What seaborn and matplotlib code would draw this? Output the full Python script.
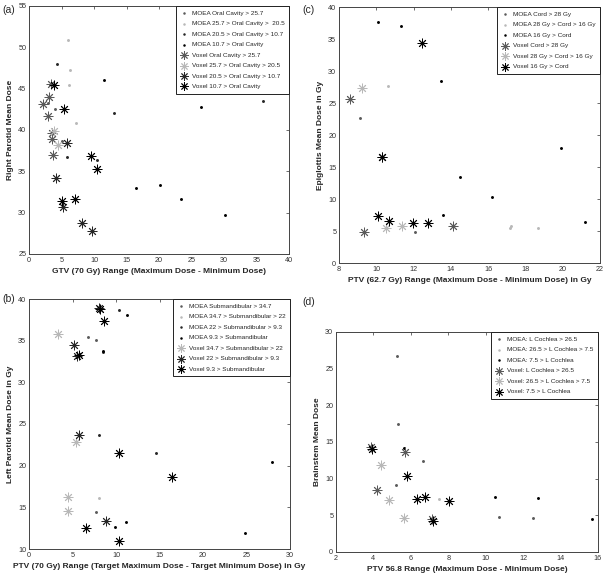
import numpy as np
import matplotlib
matplotlib.use("Agg")
import matplotlib.pyplot as plt
import seaborn as sns

# ---- panel (a): right parotid vs GTV range, split by oral cavity dose ----
a_moea1_x = [2.9, 5.0, 4.0]
a_moea1_y = [43.3, 38.7, 42.6]
a_moea2_x = [6.0, 6.3, 6.2, 7.2]
a_moea2_y = [50.9, 47.3, 45.5, 40.8]
a_moea3_x = [4.3, 5.9, 10.5, 13.1, 36.0]
a_moea3_y = [48.0, 36.7, 36.4, 42.0, 43.5]
a_moea4_x = [11.5, 16.5, 20.2, 23.4, 30.1, 26.5]
a_moea4_y = [46.1, 33.0, 33.3, 31.7, 29.7, 42.8]
a_vox1_x = [3.4, 3.0, 2.1, 2.9, 3.5, 3.5, 3.7]
a_vox1_y = [45.6, 44.0, 43.1, 41.7, 39.6, 38.9, 37.0]
a_vox2_x = [3.9, 4.4]
a_vox2_y = [39.9, 38.2]
a_vox3_x = [4.2, 5.3, 8.1, 9.7, 5.9]
a_vox3_y = [34.2, 30.7, 28.7, 27.8, 38.4]
a_vox4_x = [3.8, 5.4, 9.5, 10.5, 5.1, 7.0]
a_vox4_y = [45.5, 42.5, 36.8, 35.3, 31.4, 31.7]
a_labels = ["MOEA Oral Cavity > 25.7", "MOEA 25.7 > Oral Cavity >  20.5",
            "MOEA 20.5 > Oral Cavity > 10.7", "MOEA 10.7 > Oral Cavity",
            "Voxel Oral Cavity > 25.7", "Voxel 25.7 > Oral Cavity > 20.5",
            "Voxel 20.5 > Oral Cavity > 10.7", "Voxel 10.7 > Oral Cavity"]

# ---- panel (c): epiglottis vs PTV 62.7 range, split by cord dose ----
c_moea1_x = [9.1, 12.1]
c_moea1_y = [22.6, 4.9]
c_moea2_x = [10.65, 17.15, 17.2, 18.7]
c_moea2_y = [27.7, 5.5, 5.8, 5.4]
c_moea3_x = [10.1, 11.35, 13.45, 14.5, 16.2, 19.9, 21.2, 13.6]
c_moea3_y = [37.6, 37.0, 28.5, 13.4, 10.3, 18.0, 6.4, 7.5]
c_vox1_x = [8.6, 9.35, 14.1, 10.3]
c_vox1_y = [25.7, 4.9, 5.8, 16.6]
c_vox2_x = [9.25, 10.5, 11.4]
c_vox2_y = [27.4, 5.4, 5.8]
c_vox3_x = [12.45, 10.1, 10.7, 11.95, 12.8, 10.3]
c_vox3_y = [34.3, 7.3, 6.5, 6.2, 6.2, 16.6]
c_labels = ["MOEA Cord > 28 Gy", "MOEA 28 Gy > Cord > 16 Gy", "MOEA 16 Gy > Cord",
            "Voxel Cord > 28 Gy", "Voxel 28 Gy > Cord > 16 Gy", "Voxel 16 Gy > Cord"]

# ---- panel (b): left parotid vs PTV 70 range, split by submandibular dose ----
b_moea1_x = [6.8, 7.7, 7.7]
b_moea1_y = [35.5, 35.05, 14.5]
b_moea2_x = [8.0]
b_moea2_y = [16.1]
b_moea3_x = [8.45, 8.1, 14.6, 10.4]
b_moea3_y = [33.7, 23.7, 21.55, 38.7]
b_moea4_x = [11.3, 27.9, 9.9, 11.2, 24.8, 8.5]
b_moea4_y = [38.1, 20.4, 12.7, 13.2, 11.9, 33.8]
b_vox2_x = [3.3, 5.4, 4.5, 4.5]
b_vox2_y = [35.8, 22.8, 16.2, 14.6]
b_vox3_x = [5.2, 5.5, 5.75, 8.8, 8.0]
b_vox3_y = [34.45, 33.2, 23.7, 13.4, 38.9]
b_vox4_x = [8.2, 8.6, 5.8, 10.4, 16.4, 6.5, 10.4]
b_vox4_y = [38.8, 37.4, 33.3, 21.5, 18.6, 12.5, 11.0]
b_labels = ["MOEA Submandibular > 34.7", "MOEA 34.7 > Submandibular > 22",
            "MOEA 22 > Submandibular > 9.3", "MOEA 9.3 > Submandibular",
            "Voxel 34.7 > Submandibular > 22", "Voxel 22 > Submandibular > 9.3",
            "Voxel 9.3 > Submandibular"]

# ---- panel (d): brainstem vs PTV 56.8 range, split by left cochlea dose ----
d_moea1_x = [5.27, 5.3, 6.67, 5.2, 10.7, 12.5]
d_moea1_y = [26.7, 17.5, 12.4, 9.1, 4.8, 4.6]
d_moea2_x = [7.5]
d_moea2_y = [7.2]
d_moea3_x = [5.66, 10.5, 12.8, 15.7]
d_moea3_y = [14.2, 7.5, 7.4, 4.5]
d_vox1_x = [3.85, 5.68, 4.2, 7.15]
d_vox1_y = [14.3, 13.7, 8.5, 4.5]
d_vox2_x = [4.43, 4.82, 5.66]
d_vox2_y = [11.8, 7.05, 4.7]
d_vox3_x = [3.95, 5.82, 6.35, 6.78, 8.06, 7.2]
d_vox3_y = [14.1, 10.4, 7.2, 7.5, 6.96, 4.2]
d_labels = ["MOEA: L Cochlea > 26.5", "MOEA: 26.5 > L Cochlea > 7.5", "MOEA: 7.5 > L Cochlea",
            "Voxel: L Cochlea > 26.5", "Voxel: 26.5 > L Cochlea > 7.5", "Voxel: 7.5 > L Cochlea"]

GRAY = "#5a5a5a"
LIGHT = "#b8b8b8"
DARK = "#262626"
BLACK = "#000000"
ASTER = (8, 2, 0)

sns.set_theme(style="white")
plt.rcParams["font.family"] = ["Liberation Sans", "DejaVu Sans"]

fig = plt.figure(figsize=(6.09, 5.74), dpi=100)

W, H = 609, 574


def make_axes(left, top, right, bottom):
    return fig.add_axes([left / W, 1 - bottom / H, (right - left) / W, (bottom - top) / H])


def draw(ax, series, labels):
    for (xs, ys, color, kind), lab in zip(series, labels):
        if kind == "moea":
            sns.scatterplot(x=xs, y=ys, ax=ax, marker=".", s=18, color=color,
                            linewidth=0, label=lab)
        else:
            sns.scatterplot(x=xs, y=ys, ax=ax, marker=ASTER, s=42, color=color,
                            linewidth=0.65, label=lab)
    leg = ax.legend(loc="upper right", fontsize=4.6, frameon=True, fancybox=False,
                    borderaxespad=0, handletextpad=0.6, labelspacing=0.78,
                    borderpad=0.7, handlelength=1.2, framealpha=1, markerscale=0.85)
    leg.get_frame().set_edgecolor("#222222")
    leg.get_frame().set_linewidth(0.7)


def style(ax, xlim, ylim, xticks, yticks, xlabel, ylabel):
    ax.set_xlim(*xlim)
    ax.set_ylim(*ylim)
    ax.set_xticks(xticks)
    ax.set_yticks(yticks)
    ax.tick_params(direction="in", top=True, right=True, length=2.5, width=0.5,
                   labelsize=5.2, labelcolor="#333333", pad=2, color="#333333")
    ax.set_xlabel(xlabel, fontsize=6, fontweight="bold", labelpad=3)
    ax.set_ylabel(ylabel, fontsize=6, fontweight="bold", labelpad=3)
    for sp in ax.spines.values():
        sp.set_color("#444444")
        sp.set_linewidth(0.7)


# (a)
ax = make_axes(29, 6, 289, 254)
draw(ax, [(a_moea1_x, a_moea1_y, GRAY, "moea"), (a_moea2_x, a_moea2_y, LIGHT, "moea"),
          (a_moea3_x, a_moea3_y, DARK, "moea"), (a_moea4_x, a_moea4_y, BLACK, "moea"),
          (a_vox1_x, a_vox1_y, GRAY, "vox"), (a_vox2_x, a_vox2_y, LIGHT, "vox"),
          (a_vox3_x, a_vox3_y, DARK, "vox"), (a_vox4_x, a_vox4_y, BLACK, "vox")], a_labels)
style(ax, (0, 40), (25, 55), np.arange(0, 41, 5), np.arange(25, 56, 5),
      "GTV (70 Gy) Range (Maximum Dose - Minimum Dose)", "Right Parotid Mean Dose")

# (c)
ax = make_axes(339, 7, 600, 263)
draw(ax, [(c_moea1_x, c_moea1_y, GRAY, "moea"), (c_moea2_x, c_moea2_y, LIGHT, "moea"),
          (c_moea3_x, c_moea3_y, BLACK, "moea"),
          (c_vox1_x, c_vox1_y, GRAY, "vox"), (c_vox2_x, c_vox2_y, LIGHT, "vox"),
          (c_vox3_x, c_vox3_y, BLACK, "vox")], c_labels)
style(ax, (8, 22), (0, 40), np.arange(8, 23, 2), np.arange(0, 41, 5),
      "PTV (62.7 Gy) Range (Maximum Dose - Minimum Dose) in Gy", "Epiglottis Mean Dose in Gy")

# (b)
ax = make_axes(29, 299, 290, 549)
draw(ax, [(b_moea1_x, b_moea1_y, GRAY, "moea"), (b_moea2_x, b_moea2_y, LIGHT, "moea"),
          (b_moea3_x, b_moea3_y, DARK, "moea"), (b_moea4_x, b_moea4_y, BLACK, "moea"),
          (b_vox2_x, b_vox2_y, LIGHT, "vox"), (b_vox3_x, b_vox3_y, DARK, "vox"),
          (b_vox4_x, b_vox4_y, BLACK, "vox")], b_labels)
style(ax, (0, 30), (10, 40), np.arange(0, 31, 5), np.arange(10, 41, 5),
      "PTV (70 Gy) Range (Target Maximum Dose - Target Minimum Dose) in Gy",
      "Left Parotid Mean Dose in Gy")

# (d)
ax = make_axes(336, 332, 598, 552)
draw(ax, [(d_moea1_x, d_moea1_y, GRAY, "moea"), (d_moea2_x, d_moea2_y, LIGHT, "moea"),
          (d_moea3_x, d_moea3_y, BLACK, "moea"),
          (d_vox1_x, d_vox1_y, GRAY, "vox"), (d_vox2_x, d_vox2_y, LIGHT, "vox"),
          (d_vox3_x, d_vox3_y, BLACK, "vox")], d_labels)
style(ax, (2, 16), (0, 30), np.arange(2, 17, 2), np.arange(0, 31, 5),
      "PTV 56.8 Range (Maximum Dose - Minimum Dose)", "Brainstem Mean Dose")

for lab, px, py in [("(a)", 2, 10), ("(c)", 302, 10), ("(b)", 2, 299), ("(d)", 302, 302)]:
    fig.text(px / W, 1 - py / H, lab, fontsize=7.5, va="center", ha="left")

fig.savefig("out.png", dpi=100)
